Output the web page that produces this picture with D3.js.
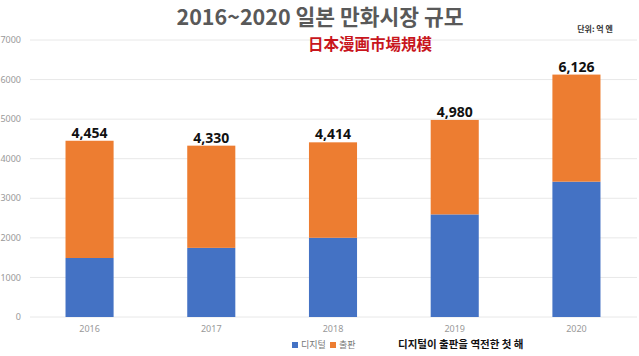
<!DOCTYPE html>
<html><head><meta charset="utf-8">
<script src="https://cdn.jsdelivr.net/npm/d3@7"></script>
<style>body{margin:0;background:#fff}svg{display:block}</style>
</head><body>
<svg id="c" width="639" height="356"></svg>
<script>
const years = ["2016","2017","2018","2019","2020"];
const digital = [1491,1747,2002,2593,3420];
const print = [2963,2583,2412,2387,2706];
const totals = [4454,4330,4414,4980,6126];
const yTicks = [0,1000,2000,3000,4000,5000,6000,7000];
const seriesNames = ["디지털","출판"];
const colors = ["#4472C4","#ED7D31"];

const svg = d3.select("#c");
const x = d3.scaleBand().domain(years).range([29,637]).paddingInner(0.605).paddingOuter(0.3);
const y = d3.scaleLinear().domain([0,7000]).range([317,40]);

// grid
svg.append("g").selectAll("line").data(yTicks).join("line")
  .attr("x1",30).attr("x2",637).attr("y1",d=>y(d)).attr("y2",d=>y(d))
  .attr("stroke","#e8e8e8").attr("stroke-width",1);
// y labels
svg.append("g").selectAll("text").data(yTicks).join("text")
  .attr("x",21).attr("y",d=>y(d)).attr("dy","0.35em").attr("text-anchor","end")
  .attr("font-family","Noto Sans, sans-serif").attr("font-size",9).attr("fill","#999")
  .text(d=>d);

const data = years.map((yr,i)=>({year:yr, d:digital[i], p:print[i], t:totals[i]}));
const stack = d3.stack().keys(["d","p"])(data);
svg.append("g").selectAll("g").data(stack).join("g").attr("fill",(s,i)=>colors[i])
  .selectAll("rect").data(s=>s).join("rect")
  .attr("x",d=>x(d.data.year)).attr("width",x.bandwidth())
  .attr("y",d=>y(d[1])).attr("height",d=>y(d[0])-y(d[1]));

// totals
svg.append("g").selectAll("text").data(data).join("text")
  .attr("x",d=>x(d.year)+x.bandwidth()/2).attr("y",d=>y(d.t)-3)
  .attr("text-anchor","middle").attr("font-family","Noto Sans, sans-serif")
  .attr("font-weight","bold").attr("font-size",14).attr("fill","#111")
  .text(d=>d3.format(",")(d.t));

// x labels
svg.append("g").selectAll("text").data(years).join("text")
  .attr("x",d=>x(d)+x.bandwidth()/2).attr("y",329).attr("dy","0.35em")
  .attr("text-anchor","middle").attr("font-family","Noto Sans, sans-serif")
  .attr("font-size",9).attr("fill","#999").text(d=>d);

// title
svg.append("text").attr("x",320).attr("y",25).attr("text-anchor","middle")
  .attr("font-family","Noto Sans CJK KR, sans-serif").attr("font-weight","bold")
  .attr("font-size",21.5).attr("fill","#595959").text("2016~2020 일본 만화시장 규모");
svg.append("text").attr("x",370).attr("y",50).attr("text-anchor","middle")
  .attr("font-family","Noto Sans CJK JP, sans-serif").attr("font-weight","bold")
  .attr("font-size",15.5).attr("fill","#c8161d").text("日本漫画市場規模");
svg.append("text").attr("x",595).attr("y",32).attr("text-anchor","middle")
  .attr("font-family","Noto Sans CJK KR, sans-serif").attr("font-weight","bold")
  .attr("font-size",8).attr("fill","#333").text("단위: 억 엔");

// legend
const leg = svg.append("g");
const legX = [292,330];
seriesNames.forEach((n,i)=>{
  leg.append("rect").attr("x",legX[i]).attr("y",342).attr("width",6).attr("height",6).attr("fill",colors[i]);
  leg.append("text").attr("x",legX[i]+9).attr("y",345).attr("dy","0.35em")
    .attr("font-family","Noto Sans CJK KR, sans-serif").attr("font-size",9).attr("fill","#777").text(n);
});
svg.append("text").attr("x",398).attr("y",344).attr("dy","0.35em")
  .attr("font-family","Noto Sans CJK KR, sans-serif").attr("font-weight","bold")
  .attr("font-size",10.5).attr("fill","#111").text("디지털이 출판을 역전한 첫 해");
</script>
</body></html>
